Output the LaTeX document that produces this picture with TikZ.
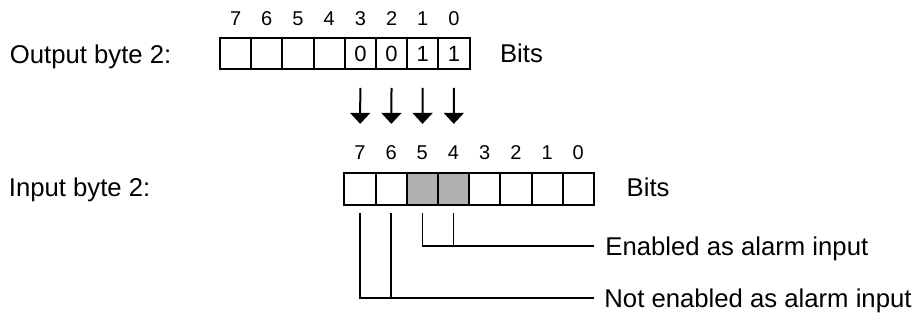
\documentclass[tikz,border=0pt]{standalone}
\usepackage{fontspec}
\setmainfont{Liberation Sans}
\usetikzlibrary{arrows.meta,positioning}
\definecolor{Ink}{HTML}{000000}
\definecolor{Dots}{HTML}{B0B0B0}

\begin{document}
\begin{tikzpicture}[x=0.5pt,y=0.5pt,
  cell/.style={draw=Ink,line width=1pt,minimum width=15.6pt,minimum height=15.75pt,inner sep=0pt,font=\fontsize{11}{11}\selectfont},
  bitno/.style={anchor=base,inner sep=0pt,font=\fontsize{10}{10}\selectfont},
  lbl/.style={anchor=base west,inner sep=0pt,font=\fontsize{12.85}{14}\selectfont},
  wire/.style={draw=Ink,line width=0.7pt}]
  \useasboundingbox (0,0) rectangle (916,320);
  \node[lbl] (outlbl) at (9.5,256.5) {Output byte 2:};
  \node[lbl] (inlbl) at (8.5,123.3) {Input byte 2:};
  \foreach \b/\v in {7/{},6/{},5/{},4/{},3/0,2/0,1/1,0/1}{
    \node[cell] (o\b) at ({235.6+31.2*(7-\b)},266.25) {\v};
    \node[bitno] (ob\b) at ({235.6+31.2*(7-\b)},294.7) {\b};
  }
  \foreach \b/\c in {7/white,6/white,5/Dots,4/Dots,3/white,2/white,1/white,0/white}{
    \node[cell,fill=\c] (i\b) at ({359.9+31.2*(7-\b)},131.1) {};
    \node[bitno] (ib\b) at ({359.9+31.2*(7-\b)},160.7) {\b};
  }
  \node[lbl] (outbits) at (499.7,257) {Bits};
  \node[lbl] (inbits) at (626.3,123.3) {Bits};
  \foreach \a/\b in {3/7,2/6,1/5,0/4}{
    \draw[wire,line width=1pt,-{Triangle[width=10pt,length=5.5pt]},shorten <=8.75pt,shorten >=24.15pt] (o\a.south) -- (i\b.north);
  }
  \node[lbl] (en) at (605,64) {Enabled as alarm input};
  \node[lbl] (noten) at (604,12) {Not enabled as alarm input};
  \coordinate (enend) at (594,74);
  \coordinate (notend) at (594,22);
  \draw[wire,shorten <=3.9pt] (i5.south) |- (enend);
  \draw[wire,shorten <=3.9pt] (i4.south) |- (enend);
  \draw[wire,shorten <=3.9pt] (i7.south) |- (notend);
  \draw[wire,shorten <=3.9pt] (i6.south) |- (notend);
\end{tikzpicture}
\end{document}
